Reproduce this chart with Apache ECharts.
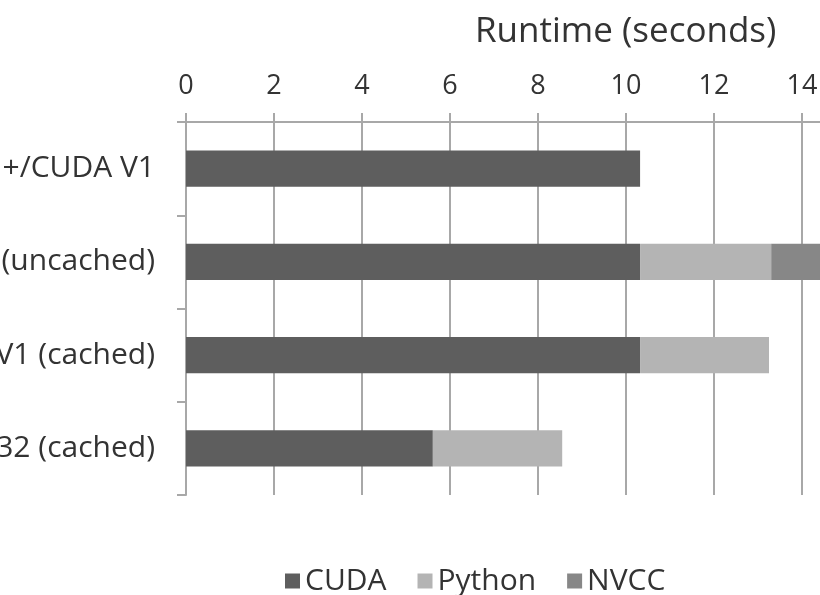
<!DOCTYPE html>
<html><head><meta charset="utf-8">
<script src="https://cdn.jsdelivr.net/npm/echarts@6/dist/echarts.min.js"></script>
<style>html,body{margin:0;padding:0;background:#fff}#c{width:820px;height:595px}</style>
</head><body><div id="c"></div>
<script>
const categories = ['+/CUDA V1', '(uncached)', 'V1 (cached)', '32 (cached)'];
const cuda = [10.32, 10.32, 10.32, 5.61];
const python = [0, 2.98, 2.93, 2.94];
const nvcc = [0, 2.2, 0, 0];
const seriesNames = ['CUDA', 'Python', 'NVCC'];
const xTicks = [0, 2, 4, 6, 8, 10, 12, 14, 16];

const FONT = '"Open Sans", sans-serif';
const chart = echarts.init(document.getElementById('c'));
const colors = ['#5e5e5e', '#b4b4b4', '#878787'];
chart.setOption({
  animation: false,
  backgroundColor: '#fff',
  title: {
    text: 'Runtime (seconds)', left: 470, top: 10,
    textStyle: {fontFamily: FONT, fontSize: 35, fontWeight: 'normal', color: '#333'}
  },
  legend: {
    data: seriesNames, left: 280, top: 561, itemWidth: 15, itemHeight: 15, itemGap: 31,
    icon: 'rect',
    textStyle: {fontFamily: FONT, fontSize: 30, color: '#333', padding: [0, 0, 0, 0]}
  },
  grid: {left: 186, width: 704, top: 122, height: 373, outerBoundsMode: 'none', containLabel: false},
  xAxis: {
    type: 'value', position: 'top', min: xTicks[0], max: xTicks[xTicks.length - 1], interval: 2,
    axisLine: {show: true, lineStyle: {color: '#a8a8a8', width: 2}},
    axisTick: {show: true, length: 9, lineStyle: {color: '#a8a8a8', width: 2}},
    splitLine: {show: true, lineStyle: {color: '#a8a8a8', width: 2}},
    axisLabel: {margin: 22, fontFamily: FONT, fontSize: 27, color: '#333'}
  },
  yAxis: {
    type: 'category', inverse: true, data: categories,
    axisLine: {show: true, lineStyle: {color: '#a8a8a8', width: 2}},
    axisTick: {show: true, length: 9, lineStyle: {color: '#a8a8a8', width: 2}},
    axisLabel: {margin: 31, fontFamily: FONT, fontSize: 30, color: '#333', padding: [6, 0, 0, 0]}
  },
  series: [
    {name: seriesNames[0], type: 'bar', stack: 't', data: cuda, barWidth: '39%', itemStyle: {color: colors[0]}},
    {name: seriesNames[1], type: 'bar', stack: 't', data: python, itemStyle: {color: colors[1]}},
    {name: seriesNames[2], type: 'bar', stack: 't', data: nvcc, itemStyle: {color: colors[2]}}
  ]
});
</script></body></html>
